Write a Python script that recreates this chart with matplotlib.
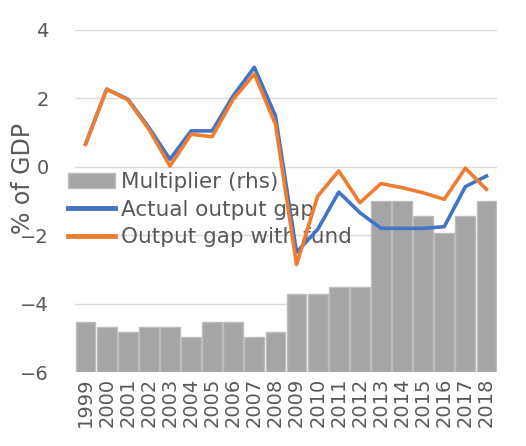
# -- Output gap with and without the fund, plus multiplier bars (rhs)

import numpy as np
import matplotlib
matplotlib.use("Agg")
import matplotlib.pyplot as plt

# Data
years = [str(y) for y in range(1999, 2019)]
multiplier = [0.59, 0.53, 0.47, 0.53, 0.53, 0.41, 0.59, 0.59, 0.41, 0.47,
              0.91, 0.91, 1.00, 1.00, 2.00, 2.00, 1.82, 1.62, 1.82, 2.00]
actual_gap = [0.66, 2.27, 1.98, 1.15, 0.22, 1.05, 1.05, 2.08, 2.91, 1.49,
              -2.50, -1.83, -0.74, -1.34, -1.80, -1.80, -1.80, -1.75, -0.58, -0.27]
gap_with_fund = [0.66, 2.27, 1.96, 1.10, 0.02, 0.95, 0.88, 1.98, 2.71, 1.25,
                 -2.86, -0.86, -0.12, -1.05, -0.49, -0.61, -0.76, -0.95, -0.04, -0.66]
left_ticks = [-6, -4, -2, 0, 2, 4]
right_ticks = [0, 1, 2, 3, 4]

text_col = "#595959"
grid_col = "#d9d9d9"

fig = plt.figure(figsize=(5.26, 4.46), dpi=100)
ax = fig.add_axes([75 / 526, 74 / 446, 422 / 526, 342 / 446])
ax2 = ax.twinx()

x = np.arange(len(years))

# Bars on right axis
ax2.bar(x, multiplier, width=0.94, color="#a5a5a5", edgecolor="#bdbdbd",
        linewidth=1, zorder=2, label="Multiplier (rhs)")
ax2.set_ylim(0, 4)
ax2.set_yticks(right_ticks)

# Gridlines (left axis ticks) drawn behind bars
for v in left_ticks:
    ax2.plot([0, 1], [v, v], transform=ax.get_yaxis_transform(),
             color=grid_col, linewidth=1, zorder=0)

# Lines on left axis, drawn above bars
ax.set_zorder(ax2.get_zorder() + 1)
ax.patch.set_visible(False)
l1, = ax.plot(x, actual_gap, color="#4472C4", linewidth=2.6,
              label="Actual output gap", solid_joinstyle="round")
l2, = ax.plot(x, gap_with_fund, color="#ED7D31", linewidth=2.6,
              label="Output gap with fund", solid_joinstyle="round")
ax.set_ylim(-6, 4)
ax.set_yticks(left_ticks)
ax.set_xlim(-0.5, len(years) - 0.5)
ax.set_xticks(x)
ax.set_xticklabels(years, rotation=90)

for a in (ax, ax2):
    for s in a.spines.values():
        s.set_visible(False)
    a.tick_params(length=0, colors=text_col, labelsize=14)
ax.tick_params(axis="y", pad=19)
ax.tick_params(axis="x", pad=4, labelsize=14)
ax2.tick_params(axis="y", pad=30)

fig.text(23 / 526, 1 - 178 / 446, "% of GDP", rotation=90, ha="center",
         va="center", fontsize=17, color=text_col)

# Legend on the lower axes so the lines pass over it
bars_handle = ax2.containers[0]
leg = ax2.legend([bars_handle, l1, l2],
                 ["Multiplier (rhs)", "Actual output gap", "Output gap with fund"],
                 loc="upper left", bbox_to_anchor=(68 / 526, 1 - 172 / 446),
                 bbox_transform=fig.transFigure, frameon=False, fontsize=15.5,
                 borderpad=0, borderaxespad=0, handlelength=2.2,
                 handletextpad=0.25, labelspacing=0.35)
for t in leg.get_texts():
    t.set_color(text_col)
for h in leg.legend_handles[1:]:
    h.set_linewidth(3.5)

plt.savefig("out.png", dpi=100)
